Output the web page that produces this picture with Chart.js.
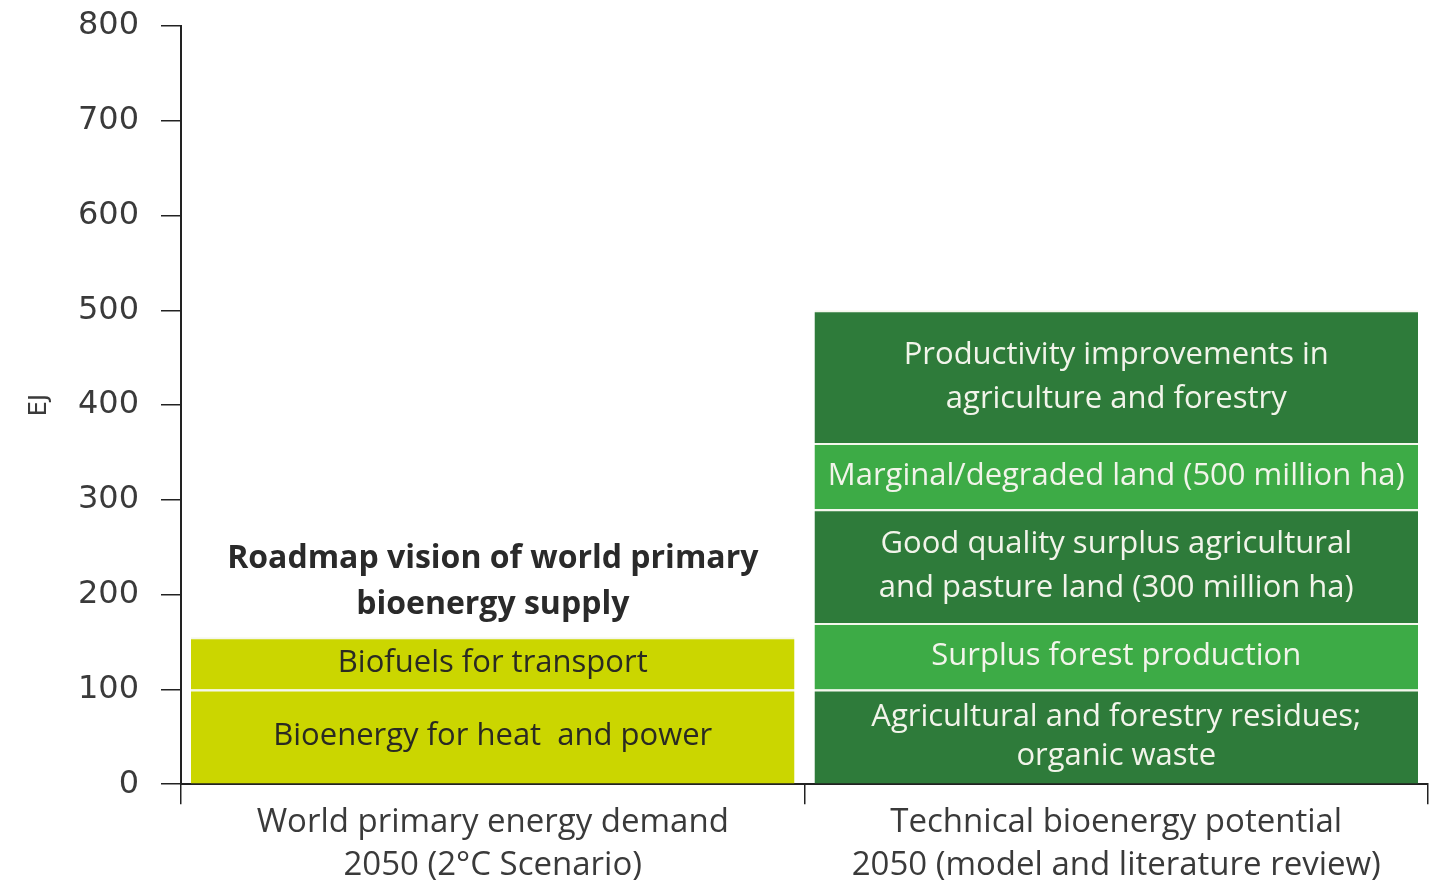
<!DOCTYPE html>
<html lang="en">
<head>
<meta charset="UTF-8" />
<title>Bioenergy supply vs technical potential 2050</title>
<style>
  html, body {
    margin: 0;
    padding: 0;
    background: #fff;
  }
  #wrap {
    width: 1429px;
    height: 884px;
  }
</style>
</head>
<body>

<div id="wrap">
  <canvas id="bioChart"></canvas>
</div>

<script src="https://cdn.jsdelivr.net/npm/chart.js"></script>
<script>
  // Categories (x axis), two lines each
  const categories = [
    ['World primary energy demand', '2050 (2\u00B0C Scenario)'],
    ['Technical bioenergy potential', '2050 (model and literature review)']
  ];

  // Stack segments, bottom to top
  const segmentNames = [
    ['Bioenergy for heat  and power'],
    ['Biofuels for transport'],
    ['Agricultural and forestry residues;', 'organic waste'],
    ['Surplus forest production'],
    ['Good quality surplus agricultural', 'and pasture land (300 million ha)'],
    ['Marginal/degraded land (500 million ha)'],
    ['Productivity improvements in', 'agriculture and forestry']
  ];
  const segmentCategory = [0, 0, 1, 1, 1, 1, 1];
  const segmentValues = [100, 55, 100, 70, 120, 70, 140];   // EJ

  const yTicks = [0, 100, 200, 300, 400, 500, 600, 700, 800];
  const leftCaption = ['Roadmap vision of world primary', 'bioenergy supply'];

  // colours
  const yellow = '#cbd600';
  const darkGreen = '#2e7b3a';
  const lightGreen = '#3dab46';
  const segmentColors = [yellow, yellow, darkGreen, lightGreen, darkGreen, lightGreen, darkGreen];

  const datasets = segmentNames.map((name, i) => {
    const data = categories.map((c, ci) => ci === segmentCategory[i] ? segmentValues[i] : null);
    return {
      label: name.join(' '),
      lines: name,
      data,
      backgroundColor: segmentColors[i],
      borderColor: '#f4f7ec',
      borderWidth: { top: 2, bottom: 0, left: 0, right: 0 },
      borderSkipped: false,
      barPercentage: 0.968,
      categoryPercentage: 1.0
    };
  });

  // draws the text inside each segment, and the caption over the left stack
  const segmentText = {
    id: 'segmentText',
    afterDatasetsDraw(chart) {
      const ctx = chart.ctx;
      ctx.save();
      ctx.textAlign = 'center';
      ctx.textBaseline = 'middle';
      ctx.font = '31px "Open Sans"';
      let leftTop = Infinity;
      chart.data.datasets.forEach((ds, i) => {
        const meta = chart.getDatasetMeta(i);
        const ci = segmentCategory[i];
        const bar = meta.data[ci];
        if (!bar) return;
        const props = bar.getProps(['x', 'y', 'base'], true);
        if (ci === 0) leftTop = Math.min(leftTop, props.y);
        ctx.fillStyle = ci === 0 ? '#2a2a22' : '#f2f4ea';
        const mid = (props.y + props.base) / 2;
        const lh = ds.lines.length > 1 ? (i === 2 ? 39 : 44) : 0;
        ds.lines.forEach((t, k) => {
          ctx.fillText(t, props.x, mid + (k - (ds.lines.length - 1) / 2) * lh);
        });
      });
      // caption above the left bar
      const first = chart.getDatasetMeta(0).data[0];
      ctx.font = 'bold 32px "Open Sans"';
      ctx.fillStyle = '#2a2a2a';
      ctx.fillText(leftCaption[0], first.x, leftTop - 78);
      ctx.fillText(leftCaption[1], first.x, leftTop - 32);
      ctx.restore();
    }
  };

  const ctx = document.getElementById('bioChart').getContext('2d');
  new Chart(ctx, {
    type: 'bar',
    data: { labels: categories, datasets },
    plugins: [segmentText],
    options: {
      responsive: true,
      maintainAspectRatio: false,
      animation: false,
      layout: { padding: { top: 0, right: 1, left: 0, bottom: 0 } },
      plugins: {
        legend: { display: false },
        tooltip: { enabled: false }
      },
      scales: {
        x: {
          stacked: true,
          offset: true,
          grid: {
            offset: true,
            drawOnChartArea: false,
            drawTicks: true,
            tickLength: 20,
            color: '#222',
            lineWidth: 1.5
          },
          border: { display: true, color: '#222', width: 2 },
          ticks: {
            color: '#3a3a3a',
            font: { family: 'Open Sans', size: 33, lineHeight: 1.33 },
            padding: -4,
            maxRotation: 0,
            autoSkip: false
          }
        },
        y: {
          stacked: true,
          min: 0,
          max: 800,
          afterBuildTicks: s => { s.ticks = yTicks.map(v => ({ value: v })); },
          afterFit: s => { s.width = 181; s.paddingTop = 26; },
          grid: {
            drawOnChartArea: false,
            drawTicks: true,
            tickLength: 20,
            color: '#222',
            lineWidth: 1.5
          },
          border: { display: true, color: '#222', width: 2 },
          ticks: {
            color: '#3a3a3a',
            font: { family: 'DejaVu Sans', size: 32, lineHeight: 1.2 },
            padding: 22
          },
          title: {
            display: true,
            text: 'EJ',
            color: '#3a3a3a',
            font: { family: 'DejaVu Sans', size: 24 },
            padding: { top: 25, bottom: 0 }
          }
        }
      }
    }
  });
</script>

</body>
</html>
